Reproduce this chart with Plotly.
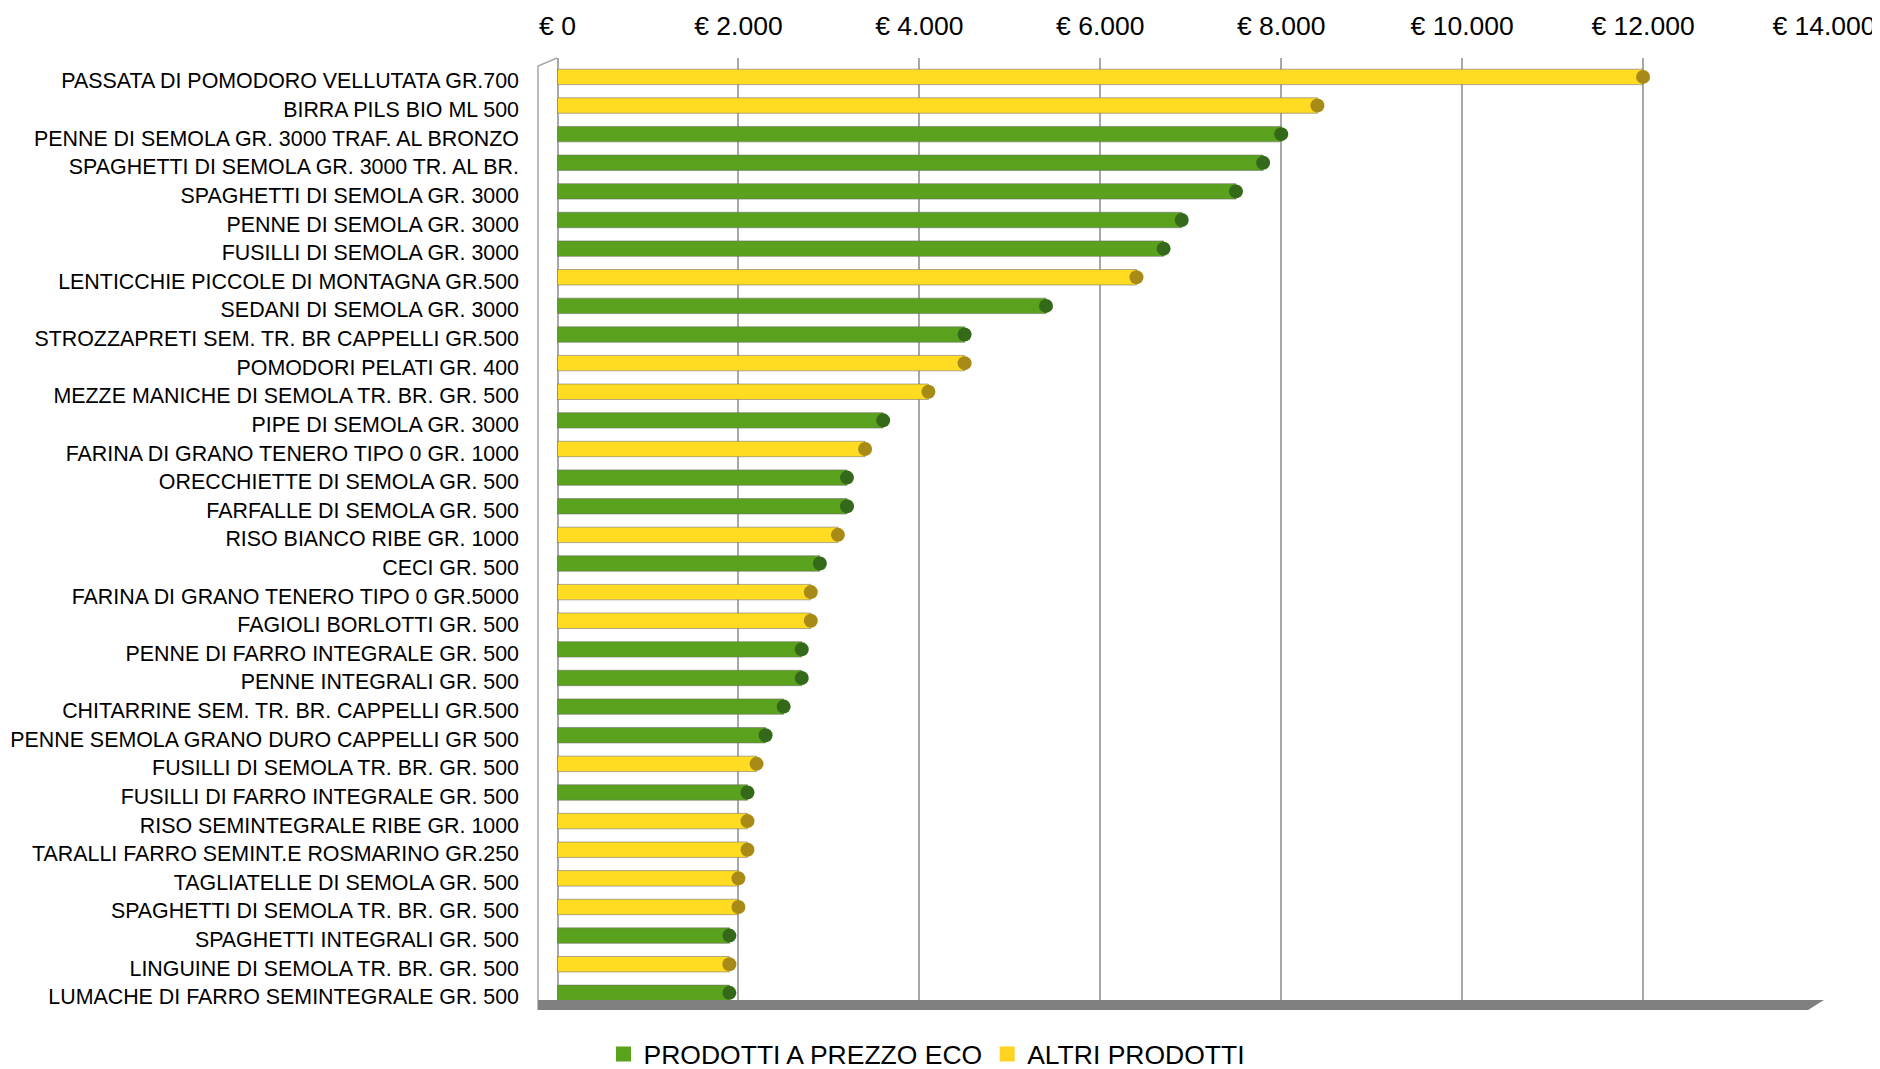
import plotly.graph_objects as go

categories = [
    "PASSATA DI POMODORO VELLUTATA GR.700",
    "BIRRA PILS BIO ML 500",
    "PENNE DI SEMOLA GR. 3000 TRAF. AL BRONZO",
    "SPAGHETTI DI SEMOLA GR. 3000 TR. AL BR.",
    "SPAGHETTI DI SEMOLA GR. 3000",
    "PENNE DI SEMOLA GR. 3000",
    "FUSILLI DI SEMOLA GR. 3000",
    "LENTICCHIE PICCOLE DI MONTAGNA GR.500",
    "SEDANI DI SEMOLA GR. 3000",
    "STROZZAPRETI SEM. TR. BR CAPPELLI GR.500",
    "POMODORI PELATI GR. 400",
    "MEZZE MANICHE DI SEMOLA TR. BR. GR. 500",
    "PIPE DI SEMOLA GR. 3000",
    "FARINA DI GRANO TENERO TIPO 0 GR. 1000",
    "ORECCHIETTE DI SEMOLA GR. 500",
    "FARFALLE DI SEMOLA GR. 500",
    "RISO BIANCO RIBE GR. 1000",
    "CECI GR. 500",
    "FARINA DI GRANO TENERO TIPO 0 GR.5000",
    "FAGIOLI BORLOTTI GR. 500",
    "PENNE DI FARRO INTEGRALE GR. 500",
    "PENNE INTEGRALI GR. 500",
    "CHITARRINE SEM. TR. BR. CAPPELLI GR.500",
    "PENNE SEMOLA GRANO DURO CAPPELLI GR 500",
    "FUSILLI DI SEMOLA TR. BR. GR. 500",
    "FUSILLI DI FARRO INTEGRALE GR. 500",
    "RISO SEMINTEGRALE RIBE GR. 1000",
    "TARALLI FARRO SEMINT.E ROSMARINO GR.250",
    "TAGLIATELLE DI SEMOLA GR. 500",
    "SPAGHETTI DI SEMOLA TR. BR. GR. 500",
    "SPAGHETTI INTEGRALI GR. 500",
    "LINGUINE DI SEMOLA TR. BR. GR. 500",
    "LUMACHE DI FARRO SEMINTEGRALE GR. 500",
]

values = [12000, 8400, 8000, 7800, 7500, 6900, 6700, 6400, 5400, 4500, 4500,
          4100, 3600, 3400, 3200, 3200, 3100, 2900, 2800, 2800, 2700, 2700,
          2500, 2300, 2200, 2100, 2100, 2100, 2000, 2000, 1900, 1900, 1900]

# "E" = PRODOTTI A PREZZO ECO, "A" = ALTRI PRODOTTI
groups = ["A", "A", "E", "E", "E", "E", "E", "A", "E", "E", "A",
          "A", "E", "A", "E", "E", "A", "E", "A", "A", "E", "E",
          "E", "E", "A", "E", "A", "A", "A", "A", "E", "A", "E"]

series_names = {"E": "PRODOTTI A PREZZO ECO", "A": "ALTRI PRODOTTI"}

tick_vals = [0, 2000, 4000, 6000, 8000, 10000, 12000, 14000]
tick_text = ["€ 0", "€ 2.000", "€ 4.000", "€ 6.000", "€ 8.000",
             "€ 10.000", "€ 12.000", "€ 14.000"]

fill = {"E": "#5AA21E", "A": "#FFDB22"}
cap = {"E": "#35691A", "A": "#A88A16"}
legend_col = {"E": "#58A21C", "A": "#FFD320"}

fig = go.Figure()

for g in ["E", "A"]:
    xs = [v if gg == g else None for v, gg in zip(values, groups)]
    fig.add_trace(go.Bar(
        x=xs, y=categories, orientation="h", name=series_names[g],
        width=0.54,
        marker=dict(color=fill[g], line=dict(color="rgba(110,110,110,0.55)", width=1)),
        showlegend=False,
    ))

for g in ["E", "A"]:
    xs = [v if gg == g else None for v, gg in zip(values, groups)]
    fig.add_trace(go.Scatter(
        x=xs, y=categories, mode="markers",
        marker=dict(symbol="circle", size=14, color=cap[g], line=dict(width=0)),
        showlegend=False, hoverinfo="skip",
    ))

# legend entries
for g in ["E", "A"]:
    fig.add_trace(go.Bar(
        x=[None], y=[categories[0]], orientation="h", name=series_names[g],
        marker=dict(color=legend_col[g], line=dict(color=legend_col[g], width=3)),
        showlegend=True,
    ))

grid_col = "#A8A8A8"
plot_h = 942
floor_h = 10 / plot_h

fig.update_layout(
    width=1872, height=1061,
    paper_bgcolor="white", plot_bgcolor="white",
    barmode="overlay",
    margin=dict(l=530, r=56, t=50, b=69, autoexpand=False),
    font=dict(family="Liberation Sans, Arial, sans-serif", color="#000000"),
    xaxis=dict(
        side="top", range=[-215.6, 14000],
        tickmode="array", tickvals=tick_vals, ticktext=tick_text,
        tickfont=dict(size=26.5, color="#000000"),
        showgrid=True, gridcolor=grid_col, gridwidth=2,
        zeroline=False, showline=False, ticks="",
        ticklabelstandoff=17,
        fixedrange=True,
    ),
    yaxis=dict(
        type="category",
        categoryorder="array", categoryarray=categories,
        range=[32.25, -0.66],
        tickfont=dict(size=21.4, color="#000000"),
        showgrid=False, zeroline=False, showline=False, ticks="",
        ticklabelstandoff=18,
        ticklabelshift=-4,
        fixedrange=True,
    ),
    legend=dict(
        orientation="h", x=0.3025, xanchor="center",
        y=-0.0576, yanchor="middle",
        font=dict(size=26.5, color="#000000"),
        bgcolor="rgba(0,0,0,0)", traceorder="normal",
    ),
    shapes=[
        # floor
        dict(type="path", xref="paper", yref="paper",
             path=f"M 0,0 L 1,0 L 0.9876,{-floor_h} L 0,{-floor_h} Z",
             fillcolor="#808080", line=dict(width=0), layer="above"),
        # left side wall edge
        dict(type="path", xref="paper", yref="paper",
             path=f"M 0,{-floor_h} L 0,0.9915 L 0.0148,1",
             line=dict(color=grid_col, width=1.5), layer="below"),
    ],
)

fig.write_html("out.html")
